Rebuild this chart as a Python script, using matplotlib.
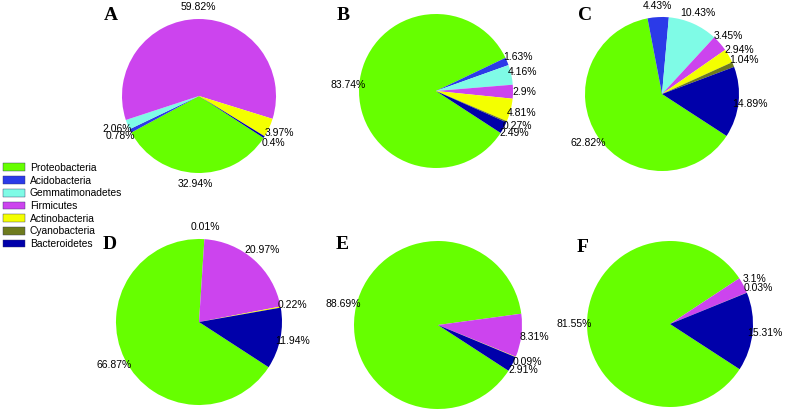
import matplotlib
matplotlib.use('Agg')
import matplotlib.pyplot as plt
from matplotlib.patches import Patch

plt.rcParams['font.family'] = ['Liberation Sans', 'DejaVu Sans']

phyla = ['Proteobacteria', 'Acidobacteria', 'Gemmatimonadetes', 'Firmicutes',
         'Actinobacteria', 'Cyanobacteria', 'Bacteroidetes']
colors = ['#66ff00', '#2b3ae8', '#7ffbe6', '#cc44ee', '#f4ff00', '#6e7b1e', '#0000aa']

panel_names = ['A', 'B', 'C', 'D', 'E', 'F']
vals_a = [32.94, 0.78, 2.06, 59.82, 3.97, 0, 0.4]
vals_b = [83.74, 1.63, 4.16, 2.9, 4.81, 0.27, 2.49]
vals_c = [62.82, 4.43, 10.43, 3.45, 2.94, 1.04, 14.89]
vals_d = [66.87, 0.01, 0, 20.97, 0.22, 0, 11.94]
vals_e = [88.69, 0, 0, 8.31, 0.09, 0, 2.91]
vals_f = [81.55, 0, 0, 3.1, 0.03, 0, 15.31]
panel_vals = [vals_a, vals_b, vals_c, vals_d, vals_e, vals_f]

W, H = 786, 412
fig = plt.figure(figsize=(W / 100, H / 100), dpi=100)

# layout in pixels: pie centre, radius, letter position
centres = [(199, 96), (436, 91), (662, 94), (199, 322), (438, 325), (670, 324)]
radii = [77, 77, 77, 83, 84, 83]
letters = [(111, 16), (343, 15), (585, 15), (110, 245), (342, 245), (583, 248)]

k = 1.45
for name, vals, (cx, cy), r, (lx, ly) in zip(panel_names, panel_vals, centres, radii, letters):
    h = r * k
    ax = fig.add_axes([(cx - h) / W, (H - cy - h) / H, 2 * h / W, 2 * h / H])
    labels = [f'{v:g}%' if v > 0 else '' for v in vals]
    wedges, texts = ax.pie(vals, colors=colors, labels=labels, startangle=-33,
                           counterclock=False, labeldistance=1.15,
                           wedgeprops=dict(linewidth=0),
                           textprops=dict(fontsize=7.5, color='black'))
    for t in texts:
        t.set_horizontalalignment('center')
        t.set_verticalalignment('center')
    ax.set_xlim(-k, k)
    ax.set_ylim(-k, k)
    ax.set_aspect('equal')
    ax.axis('off')
    fig.text(lx / W, 1 - ly / H, name, ha='center', va='center', fontsize=14,
             fontweight='bold', family='Liberation Serif')

handles = [Patch(facecolor=c, edgecolor='#333366', linewidth=0.3) for c in colors]
fig.legend(handles, phyla, loc='upper left', bbox_to_anchor=(3 / W, 1 - 163 / H),
           frameon=False, fontsize=7.4, handlelength=2.15, handleheight=0.8,
           handletextpad=0.45, labelspacing=0.26, borderaxespad=0, borderpad=0)

fig.savefig('out.png', dpi=100)
